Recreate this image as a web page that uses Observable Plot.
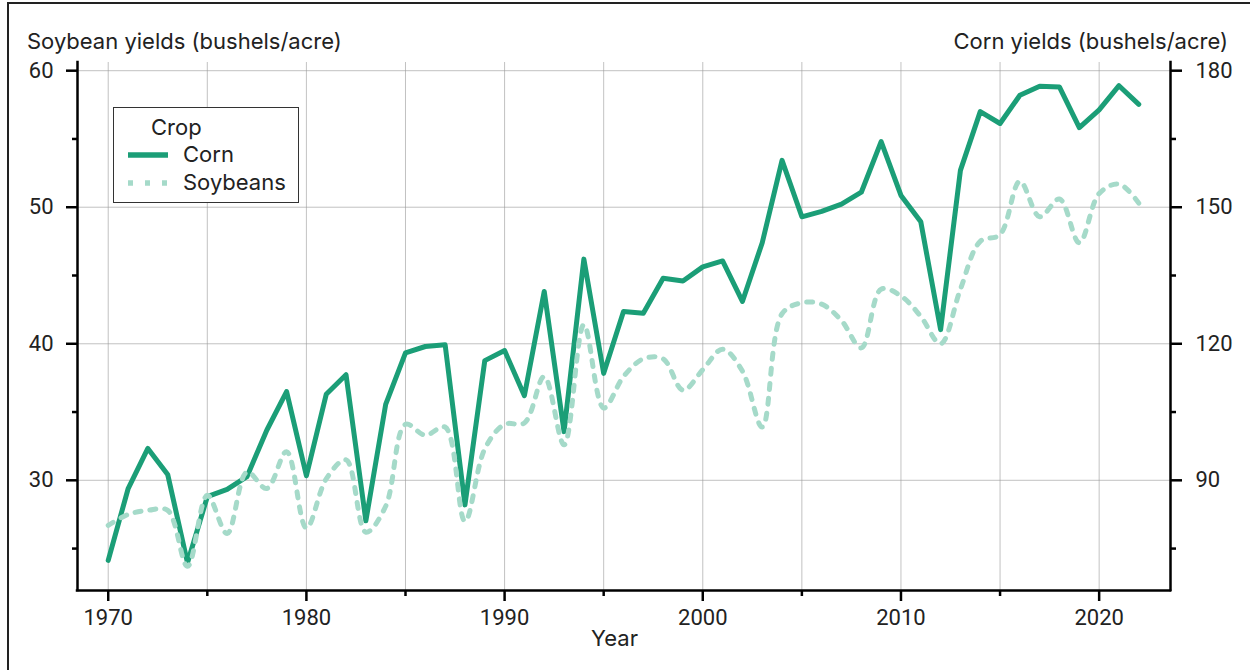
<!DOCTYPE html>
<html><head><meta charset="utf-8">
<script src="https://cdn.jsdelivr.net/npm/d3@7"></script>
<script src="https://cdn.jsdelivr.net/npm/@observablehq/plot@0.6"></script>
<style>
body{margin:0;background:#fff;font-family:Inter,Roboto,sans-serif;color:#222}
#wrap{position:relative;width:1250px;height:670px;overflow:hidden;background:#fff}
#frame{position:absolute;left:7px;top:2px;width:1300px;height:720px;border-top:2.5px solid #222;border-left:2.5px solid #222;pointer-events:none}
.lbl{position:absolute;font-size:22px;line-height:22px;white-space:nowrap;color:#222}
#legend{position:absolute;left:113px;top:107px;width:184px;height:94px;border:1px solid #333;background:#fff;font-size:22px;color:#222}
#legend .t{position:absolute;white-space:nowrap;line-height:22px}
#legend svg{position:absolute}
#chart{position:absolute;left:0;top:0}
</style></head>
<body>
<div id="wrap">
  <div id="chart"></div>
  <div id="frame"></div>
  <div class="lbl" id="ylabL" style="left:27px;top:30px">Soybean yields (bushels/acre)</div>
  <div class="lbl" id="ylabR" style="right:22px;top:30px">Corn yields (bushels/acre)</div>
  <div class="lbl" id="xlab" style="left:591px;top:627px">Year</div>
  <div id="legend"></div>
</div>
<script>
const years = [1970,1971,1972,1973,1974,1975,1976,1977,1978,1979,
  1980,1981,1982,1983,1984,1985,1986,1987,1988,1989,
  1990,1991,1992,1993,1994,1995,1996,1997,1998,1999,
  2000,2001,2002,2003,2004,2005,2006,2007,2008,2009,
  2010,2011,2012,2013,2014,2015,2016,2017,2018,2019,
  2020,2021,2022];
const cornYield = [72.4,88.1,97.0,91.3,71.9,86.4,88.0,90.8,101.0,109.5,
  91.0,108.9,113.2,81.1,106.7,118.0,119.4,119.8,84.6,116.3,
  118.5,108.6,131.5,100.7,138.6,113.5,127.1,126.7,134.4,133.8,
  136.9,138.2,129.3,142.2,160.3,147.9,149.1,150.7,153.3,164.4,
  152.6,146.8,123.1,158.1,171.0,168.4,174.6,176.6,176.4,167.5,
  171.4,176.7,172.6];
const soyYield = [26.7,27.5,27.8,27.8,23.7,28.9,26.1,30.6,29.4,32.1,
  26.5,30.1,31.5,26.2,28.1,34.1,33.3,33.9,27.0,32.3,
  34.1,34.2,37.6,32.6,41.4,35.3,37.6,38.9,38.9,36.6,
  38.1,39.6,38.0,33.9,42.2,43.0,42.9,41.7,39.7,44.0,
  43.5,42.0,40.0,44.0,47.5,48.0,51.9,49.3,50.6,47.4,
  51.0,51.7,50.3];
const crops = ["Corn","Soybeans"];
const xMajorTicks = [1970,1980,1990,2000,2010,2020];
const xMinorTicks = [1975,1985,1995,2005,2015];
const xGridTicks = [1970,1975,1980,1985,1990,1995,2000,2005,2010,2015,2020];
const yMajorTicks = [30,40,50,60];
const yMinorTicks = [25,35,45,55];
const cornToSoyRatio = 3;
const xDomain = [1968.45, 2023.6];
const yDomain = [21.93, 60.6];
const cornColor = "#1b9e77";
const soyColor = "#a5dac9";

const rows = years.map((yr,i)=>({year:yr, corn:cornYield[i], soy:soyYield[i]}));
const axisStroke = "#000";
const tickFont = 'Roboto,"Liberation Sans",sans-serif';
const chart = Plot.plot({
  width:1250, height:670,
  marginTop:62, marginBottom:80, marginLeft:77, marginRight:80,
  style:{fontFamily:tickFont, fontSize:"22px", color:"#222", background:"transparent", overflow:"visible"},
  x:{domain:xDomain},
  y:{domain:yDomain},
  marks:[
    Plot.gridX(xGridTicks, {stroke:"#999", strokeOpacity:0.6, strokeWidth:1}),
    Plot.gridY(yMajorTicks, {stroke:"#999", strokeOpacity:0.6, strokeWidth:1}),
    Plot.lineY(rows, {x:"year", y:d=>d.corn/cornToSoyRatio, stroke:cornColor, strokeWidth:5, strokeLinejoin:"round"}),
    Plot.lineY(rows, {x:"year", y:"soy", stroke:soyColor, strokeWidth:5, strokeDasharray:"6,9", curve:"catmull-rom"}),
    Plot.ruleX([xDomain[0]], {stroke:axisStroke, strokeWidth:2.5, strokeLinecap:"square"}),
    Plot.ruleX([xDomain[1]], {stroke:axisStroke, strokeWidth:2.5, strokeLinecap:"square"}),
    Plot.ruleY([yDomain[0]], {stroke:axisStroke, strokeWidth:2.5, strokeLinecap:"square"}),
    Plot.axisX(xMajorTicks, {tickSize:11, tickPadding:8, tickFormat:d=>String(d), label:null, stroke:axisStroke, strokeWidth:2.5, fontSize:22}),
    Plot.axisX(xMinorTicks, {tickSize:6, tickFormat:()=>"", label:null, stroke:axisStroke, strokeWidth:2.5}),
    Plot.axisY(yMajorTicks, {anchor:"left", tickSize:11, tickPadding:13, label:null, stroke:axisStroke, strokeWidth:2.5, fontSize:22}),
    Plot.axisY(yMinorTicks, {anchor:"left", tickSize:5, tickFormat:()=>"", label:null, stroke:axisStroke, strokeWidth:2.5}),
    Plot.axisY(yMajorTicks, {anchor:"right", tickSize:11, tickPadding:14, tickFormat:d=>String(d*cornToSoyRatio), label:null, stroke:axisStroke, strokeWidth:2.5, fontSize:22}),
    Plot.axisY(yMinorTicks, {anchor:"right", tickSize:5, tickFormat:()=>"", label:null, stroke:axisStroke, strokeWidth:2.5})
  ]
});
document.getElementById("chart").appendChild(chart);

// legend
const lg = document.getElementById("legend");
lg.innerHTML = `
  <div class="t" style="left:37px;top:8px">Crop</div>
  <svg style="left:14px;top:43px" width="40" height="8"><line x1="0" x2="40" y1="4" y2="4" stroke="${cornColor}" stroke-width="5.5"/></svg>
  <div class="t" style="left:69px;top:35px">${crops[0]}</div>
  <svg style="left:14px;top:71px" width="40" height="8"><line x1="0" x2="40" y1="4" y2="4" stroke="${soyColor}" stroke-width="5.5" stroke-dasharray="5,12"/></svg>
  <div class="t" style="left:69px;top:63px">${crops[1]}</div>`;
</script>
</body></html>
